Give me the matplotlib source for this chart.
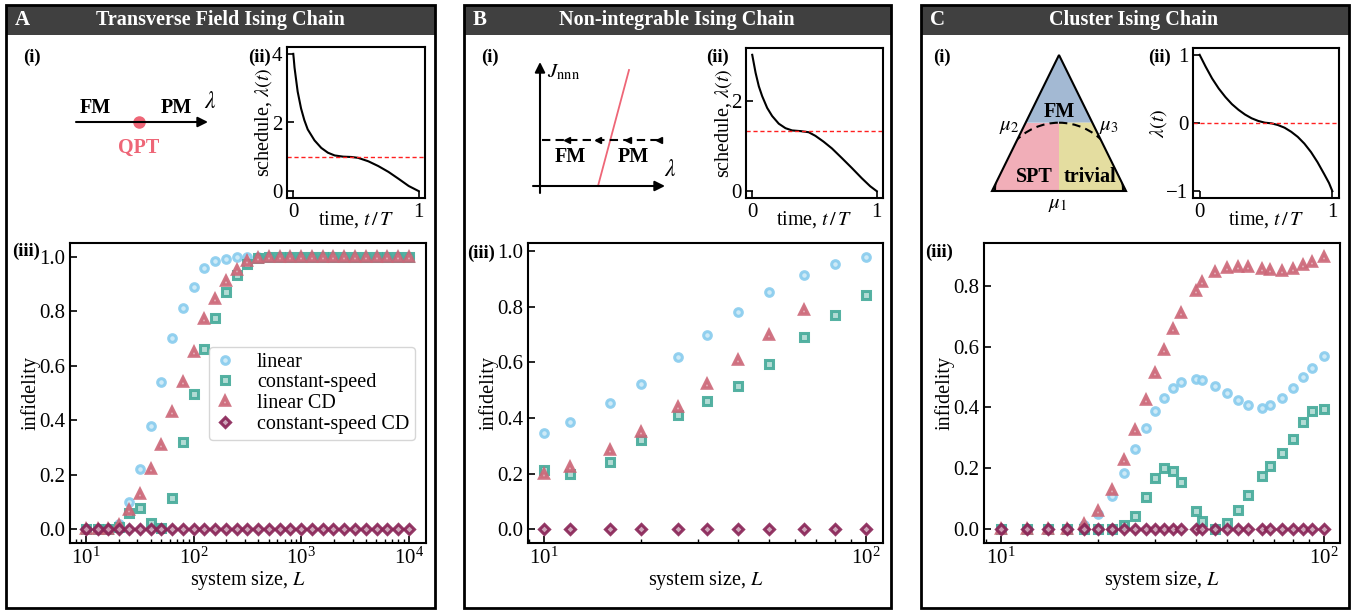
import numpy as np
import matplotlib
matplotlib.use("Agg")
import matplotlib.pyplot as plt
from matplotlib.patches import Rectangle, Polygon, Ellipse
from matplotlib.colors import to_rgb
from matplotlib.ticker import NullFormatter

plt.rcParams.update({
    "font.family": "serif",
    "font.serif": ["Liberation Serif", "DejaVu Serif"],
    "mathtext.fontset": "stix",
    "font.size": 14,
})

# ---- data ----
# A: transverse field Ising chain
L_tfim = [10, 13, 16, 20, 25, 32, 40, 50, 63, 79, 100, 126, 158, 200, 251, 316,
          398, 501, 631, 794, 1000, 1259, 1585, 1995, 2512, 3162, 3981, 5012,
          6310, 7943, 10000]
tfim_linear = [0.0, 0.0, 0.003, 0.02, 0.10, 0.22, 0.38, 0.54, 0.70, 0.81, 0.89,
               0.957, 0.983, 0.993, 1.0, 1.0, 1.0, 1.0, 1.0, 1.0, 1.0, 1.0, 1.0,
               1.0, 1.0, 1.0, 1.0, 1.0, 1.0, 1.0, 1.0]
tfim_const = [0.0, 0.0, 0.0, 0.01, 0.06, 0.08, 0.025, 0.005, 0.116, 0.32, 0.497,
              0.662, 0.775, 0.87, 0.933, 0.973, 0.995, 1.0, 1.0, 1.0, 1.0, 1.0,
              1.0, 1.0, 1.0, 1.0, 1.0, 1.0, 1.0, 1.0, 1.0]
tfim_lincd = [0.0, 0.0, 0.0, 0.015, 0.07, 0.13, 0.22, 0.31, 0.43, 0.54, 0.65,
              0.77, 0.845, 0.91, 0.952, 0.983, 0.995, 1.0, 1.0, 1.0, 1.0, 1.0,
              1.0, 1.0, 1.0, 1.0, 1.0, 1.0, 1.0, 1.0, 1.0]
tfim_cscd = [0.0] * 31

# B: non-integrable Ising chain
L_nonint = [10, 12, 16, 20, 26, 32, 40, 50, 64, 80, 100]
nonint_linear = [0.347, 0.384, 0.454, 0.523, 0.620, 0.699, 0.781, 0.853, 0.916,
                 0.956, 0.980]
nonint_const = [0.212, 0.200, 0.242, 0.322, 0.412, 0.460, 0.517, 0.593, 0.691,
                0.771, 0.843]
nonint_lincd = [0.20, 0.224, 0.284, 0.35, 0.44, 0.521, 0.61, 0.70, 0.789]
nonint_cscd = [0.0] * 11

# C: cluster Ising chain
L_cluster = [10, 12, 14, 16, 18, 20, 22, 24, 26, 28, 30, 32, 34, 36, 40, 42, 46,
             50, 54, 58, 64, 68, 74, 80, 86, 92, 100]
cluster_linear = [0.0, 0.0, 0.0, 0.0, 0.015, 0.05, 0.11, 0.185, 0.262, 0.331,
                  0.389, 0.432, 0.463, 0.482, 0.493, 0.490, 0.472, 0.448, 0.425,
                  0.408, 0.399, 0.408, 0.432, 0.464, 0.499, 0.531, 0.570]
cluster_const = [0.0, 0.0, 0.0, 0.0, 0.0, 0.0, 0.0, 0.013, 0.044, 0.106, 0.169,
                 0.201, 0.193, 0.155, 0.059, 0.027, 0.0, 0.02, 0.062, 0.111,
                 0.175, 0.207, 0.25, 0.297, 0.352, 0.39, 0.395]
cluster_lincd = [0.0, 0.0, 0.0, 0.0, 0.019, 0.059, 0.13, 0.226, 0.325, 0.423,
                 0.513, 0.59, 0.656, 0.71, 0.784, 0.811, 0.844, 0.858, 0.862,
                 0.862, 0.855, 0.851, 0.849, 0.855, 0.868, 0.877, 0.895]
cluster_cscd = [0.0] * 27

# schedules lambda(t)
t_tfim = [0, 0.004, 0.01, 0.021, 0.035, 0.062, 0.088, 0.115, 0.169, 0.223, 0.276,
          0.330, 0.397, 0.464, 0.517, 0.598, 0.678, 0.759, 0.839, 0.920, 1.0]
lam_tfim = [4.0, 3.85, 3.6, 3.29, 2.9, 2.41, 2.07, 1.80, 1.48, 1.26, 1.12, 1.04,
            1.005, 0.995, 0.97, 0.87, 0.73, 0.56, 0.36, 0.15, 0.0]
crit_tfim = 1.0

t_nonint = [0, 0.027, 0.053, 0.080, 0.12, 0.16, 0.213, 0.267, 0.32, 0.387, 0.453,
            0.507, 0.573, 0.64, 0.72, 0.80, 0.88, 0.947, 1.0]
lam_nonint = [3.03, 2.63, 2.33, 2.11, 1.85, 1.67, 1.50, 1.40, 1.35, 1.335, 1.31,
              1.23, 1.10, 0.95, 0.735, 0.515, 0.287, 0.11, 0.0]
crit_nonint = 1.338

t_cluster = [0, 0.045, 0.094, 0.144, 0.194, 0.243, 0.293, 0.342, 0.392, 0.442,
             0.491, 0.541, 0.590, 0.640, 0.690, 0.739, 0.789, 0.839, 0.888,
             0.938, 0.975, 1.0]
lam_cluster = [1.0, 0.827, 0.653, 0.505, 0.381, 0.277, 0.193, 0.124, 0.069, 0.03,
               0.005, -0.005, -0.03, -0.069, -0.129, -0.203, -0.302, -0.426,
               -0.574, -0.748, -0.881, -1.0]
crit_cluster = 0.0

labels = ["linear", "constant-speed", "linear CD", "constant-speed CD"]
markers = ["o", "s", "^", "D"]
colors = ["#88CCEE", "#44AA99", "#CC6677", "#882255"]
msizes = [5.5, 5.2, 6.0, 5.0]
medges = [2.2, 2.2, 2.6, 2.2]

W, H = 1361, 610
fig = plt.figure(figsize=(W / 100, H / 100), dpi=100)

# background layer in pixel coordinates
bg = fig.add_axes([0, 0, 1, 1], zorder=-1)
bg.set_xlim(0, W)
bg.set_ylim(H, 0)
bg.axis("off")


def tint(c, f=0.55):
    r = np.array(to_rgb(c))
    return tuple(r + (1 - r) * f)


def px_axes(l, t, r, b):
    return fig.add_axes([l / W, 1 - b / H, (r - l) / W, (b - t) / H])


def style(ax, tsize):
    ax.tick_params(which="major", direction="in", length=5, width=1.2, labelsize=tsize)
    ax.tick_params(which="minor", direction="in", length=3, width=1.0)
    for s in ax.spines.values():
        s.set_linewidth(1.5)


panels = [(6, 435, "A", "Transverse Field Ising Chain", 220),
          (464, 891, "B", "Non-integrable Ising Chain", 677),
          (921, 1349, "C", "Cluster Ising Chain", 1134)]
for x0, x1, letter, title, xc in panels:
    bg.add_patch(Rectangle((x0, 5), x1 - x0, 30, fc="#404040", ec="none"))
    bg.add_patch(Rectangle((x0, 5), x1 - x0, 603, fill=False, ec="k", lw=2))
    bg.text(x0 + 9, 20, letter, color="white", fontsize=15, fontweight="bold",
            ha="left", va="center")
    bg.text(xc, 20, title, color="white", fontsize=14.5, fontweight="bold",
            ha="center", va="center")

# sub-panel labels
for x, y, s in [(32, 57, "(i)"), (260, 57, "(ii)"), (26, 251, "(iii)"),
                (490, 57, "(i)"), (718, 57, "(ii)"), (481, 253, "(iii)"),
                (942, 57, "(i)"), (1160, 57, "(ii)"), (939, 252, "(iii)")]:
    bg.text(x, y, s, fontsize=13.5, fontweight="bold", ha="center", va="center")

# ---- A(i) schematic ----
arrow_kw = dict(arrowstyle="-|>", lw=1.5, color="k", mutation_scale=15,
                shrinkA=0, shrinkB=0)
bg.annotate("", xy=(208, 122), xytext=(76, 122), arrowprops=arrow_kw)
bg.plot([139], [122], "o", color="#EE6677", ms=8)
bg.text(95, 108, "FM", fontsize=14.5, fontweight="bold", ha="center", va="center")
bg.text(176, 108, "PM", fontsize=14.5, fontweight="bold", ha="center", va="center")
bg.text(210, 102, r"$\lambda$", fontsize=17, ha="center", va="center")
bg.text(139, 148, "QPT", fontsize=14.5, fontweight="bold", color="#EE6677",
        ha="center", va="center")

# ---- B(i) schematic ----
bg.annotate("", xy=(540, 62), xytext=(540, 193), arrowprops=arrow_kw)
bg.annotate("", xy=(665, 186), xytext=(533, 186), arrowprops=arrow_kw)
bg.plot([598, 629], [186, 70], color="#EE6677", lw=1.3)
bg.plot([542, 660], [140, 140], color="k", lw=1.5, dashes=(4, 2.5))
bg.plot([567, 598, 628, 659], [140] * 4, ls="none", marker="<", ms=5, color="k")
bg.text(547, 72, r"$J_{\mathrm{nnn}}$", fontsize=15, ha="left", va="center")
bg.text(670, 171, r"$\lambda$", fontsize=17, ha="center", va="center")
bg.text(570, 157, "FM", fontsize=14.5, fontweight="bold", ha="center", va="center")
bg.text(633, 157, "PM", fontsize=14.5, fontweight="bold", ha="center", va="center")

# ---- C(i) schematic ----
apex, bl, br, ydiv = (1059, 55), (992, 191), (1126, 191), 122.7
xl = apex[0] - (apex[0] - bl[0]) * (ydiv - apex[1]) / (bl[1] - apex[1])
xr = 2 * apex[0] - xl
bg.add_patch(Polygon([apex, (xl, ydiv), (xr, ydiv)], fc="#A3B9D3", ec="none"))
bg.add_patch(Polygon([(xl, ydiv), (apex[0], ydiv), (apex[0], bl[1]), bl],
                     fc="#F1AEB8", ec="none"))
bg.add_patch(Polygon([(apex[0], ydiv), (xr, ydiv), br, (apex[0], br[1])],
                     fc="#E4DDA0", ec="none"))
tri = Polygon([apex, bl, br], fill=False, ec="k", lw=1.5)
bg.add_patch(tri)
arc = Ellipse((apex[0], bl[1]), 2 * 64, 2 * (bl[1] - ydiv), fill=False, ec="k",
              lw=1.5, ls=(0, (4, 2.5)))
bg.add_patch(arc)
arc.set_clip_path(tri)
bg.text(1059, 112, "FM", fontsize=14.5, fontweight="bold", ha="center", va="center")
bg.text(1034, 177, "SPT", fontsize=14.5, fontweight="bold", ha="center", va="center")
bg.text(1090, 177, "trivial", fontsize=14.5, fontweight="bold", ha="center", va="center")
bg.text(1009, 126, r"$\mu_2$", fontsize=15, ha="center", va="center")
bg.text(1109, 126, r"$\mu_3$", fontsize=15, ha="center", va="center")
bg.text(1058, 204, r"$\mu_1$", fontsize=15, ha="center", va="center")

# ---- (ii) schedules ----
sched = [((287, 47, 425, 198), t_tfim, lam_tfim, crit_tfim, [0, 2, 4],
          r"schedule, $\lambda(t)$"),
         ((746, 48, 883, 198), t_nonint, lam_nonint, crit_nonint, [0, 2],
          r"schedule, $\lambda(t)$"),
         ((1193, 48, 1339, 198), t_cluster, lam_cluster, crit_cluster, [-1, 0, 1],
          r"$\lambda(t)$")]
for box, t, lam, crit, yt, ylab in sched:
    ax = px_axes(*box)
    ax.plot(t, lam, color="k", lw=1.5)
    ax.axhline(crit, color="#FF2020", lw=1.0, dashes=(3, 2))
    ax.set_xlim(-0.05, 1.05)
    ax.set_xticks([0, 1])
    ax.set_yticks(yt)
    ax.set_xlabel(r"time, $t\,/\,T$", fontsize=14.5, labelpad=-9)
    ax.set_ylabel(ylab, fontsize=14.5, labelpad=-2)
    style(ax, 15)

# ---- (iii) infidelity ----
infid = [((70, 243, 426, 543), L_tfim,
          [tfim_linear, tfim_const, tfim_lincd, tfim_cscd],
          (10 ** 0.85, 10 ** 4.16), (-0.05, 1.05), [0, 0.2, 0.4, 0.6, 0.8, 1.0]),
         ((528, 243, 883, 543), L_nonint,
          [nonint_linear, nonint_const, nonint_lincd, nonint_cscd],
          (10 ** 0.95, 10 ** 2.053), (-0.05, 1.03), [0, 0.2, 0.4, 0.6, 0.8, 1.0]),
         ((984, 243, 1340, 543), L_cluster,
          [cluster_linear, cluster_const, cluster_lincd, cluster_cscd],
          (10 ** 0.947, 10 ** 2.049), (-0.045, 0.94), [0, 0.2, 0.4, 0.6, 0.8])]
for i, (box, L, ys, xl_, yl_, yt) in enumerate(infid):
    ax = px_axes(*box)
    for y, lab, m, c, ms, mew in zip(ys, labels, markers, colors, msizes, medges):
        ax.plot(L[:len(y)], y, ls="none", marker=m, ms=ms, mec=c, mfc=tint(c),
                mew=mew, alpha=0.9, label=lab)
    ax.set_xscale("log")
    ax.set_xlim(*xl_)
    ax.set_ylim(*yl_)
    ax.set_yticks(yt)
    ax.xaxis.set_minor_formatter(NullFormatter())
    ax.set_xlabel(r"system size, $L$", fontsize=14.5, labelpad=0)
    ax.set_ylabel("infidelity", fontsize=14.5, labelpad=-1)
    style(ax, 15)
    if i == 0:
        ax.legend(loc="upper right", bbox_to_anchor=(0.97, 0.655), fontsize=14.5,
                  borderaxespad=0, handlelength=1.0, handletextpad=1.1,
                  labelspacing=0.08, borderpad=0.3, edgecolor="#CCCCCC")

fig.savefig("out.png", dpi=100)
